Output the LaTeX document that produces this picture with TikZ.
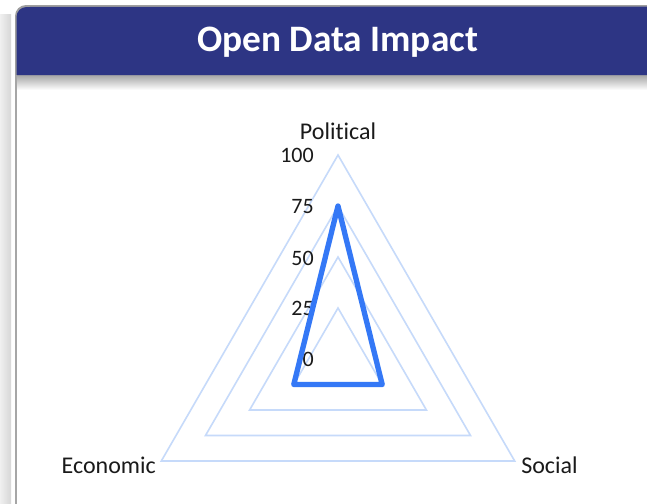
\documentclass[tikz,border=0pt]{standalone}
\usepackage{fontspec}
\setmainfont[Ligatures=CommonOff]{Carlito}
\definecolor{headblue}{HTML}{2D3584}
\definecolor{gridblue}{HTML}{C6DAFA}
\definecolor{datablue}{HTML}{3478F6}
\definecolor{txt}{HTML}{1A1A1A}
\tikzset{
  gridline/.style={draw=gridblue, line width=1.2pt, line join=miter},
  dataline/.style={draw=datablue, line width=4pt, line join=round, line cap=round},
  axislabel/.style={font=\fontsize{18}{20}\selectfont, text=txt, inner sep=0pt},
  ticklabel/.style={font=\fontsize{16.5}{18}\selectfont, text=txt, inner sep=0pt, anchor=east},
  titletext/.style={font=\fontsize{28}{32}\selectfont\bfseries, text=white, inner sep=0pt}
}
\begin{document}
\begin{tikzpicture}[x=0.75pt,y=-0.75pt]
\useasboundingbox (0,0) rectangle (647,504);
\fill[white] (0,0) rectangle (647,504);
% left shadow strip
\shade[left color=gray!12, right color=gray!32] (0,14) rectangle (11,504);
% header shadow
\shade[top color=gray!70, bottom color=white] (17,75) rectangle (647,90);
% header band
\fill[gray!75] (15,75) -- (15,16) arc[start angle=180, end angle=270, radius=11] -- (647,5) -- (647,75) -- cycle;
\fill[headblue] (16.5,75) -- (16.5,17) arc[start angle=180, end angle=270, radius=10] -- (647,6.5) -- (647,75) -- cycle;
% card left border
\draw[gray!70, line width=1.4pt] (16,75) -- (16,504);
\node[titletext] (title) at (337.5,42) {Open Data Impact};

% radar grid
\draw[gridline] (338,155) -- (514.7,461) -- (161.3,461) -- cycle;
\draw[gridline] (338,206) -- (470.5,435.5) -- (205.5,435.5) -- cycle;
\draw[gridline] (338,257) -- (426.4,410) -- (249.6,410) -- cycle;
\draw[gridline] (338,308) -- (382.2,384.5) -- (293.8,384.5) -- cycle;

% tick labels
\node[ticklabel] (t100) at (314,155) {100};
\node[ticklabel] (t75) at (314,207) {75};
\node[ticklabel] (t50) at (314,258) {50};
\node[ticklabel] (t25) at (314,308) {25};
\node[ticklabel] (t0) at (314,359) {0};

% data
\draw[dataline] (338,206) -- (382.2,384.5) -- (293.8,384.5) -- cycle;

% axis labels
\node[axislabel] (pol) at (338,131) {Political};
\node[axislabel, anchor=east] (eco) at (156,465) {Economic};
\node[axislabel, anchor=west] (soc) at (521,465) {Social};
\end{tikzpicture}
\end{document}
